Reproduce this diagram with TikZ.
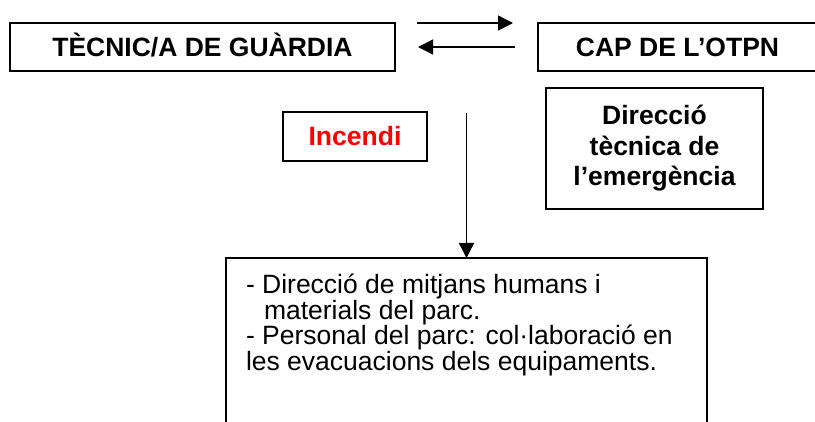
\documentclass[tikz,border=0pt]{standalone}
\usepackage{fontspec}
\setmainfont{Liberation Sans}
\usetikzlibrary{arrows.meta}
\newcommand{\headfont}{\fontsize{26.5}{30.5}\selectfont\bfseries}
\newcommand{\bodyfont}{\fontsize{26.5}{25.4}\selectfont}
\begin{document}
\begin{tikzpicture}[x=1pt,y=-1pt,
    box/.style={draw,line width=1.5pt,inner sep=0pt,outer sep=0pt},
    title/.style={box,font=\headfont,text height=19pt,text depth=0pt},
    flow/.style={line width=1.3pt,-{Triangle[length=15pt,width=15pt]}}]
  \useasboundingbox (0,0) rectangle (815,422);
  \clip (0,0) rectangle (815,422);
  % boxes
  \node[title,minimum width=385,minimum height=48] (tecnic) at (202.5,47) {TÈCNIC/A DE GUÀRDIA};
  \node[title,minimum width=279,minimum height=48] (cap) at (677.5,47) {CAP DE L’OTPN};
  \node[title,minimum width=144,minimum height=49,text=red] (incendi) at (355,136.5) {Incendi};
  \node[box,minimum width=217,minimum height=121,align=center,font=\headfont] (direccio) at (654.5,148.5)
    {Direcció\\tècnica de\\l’emergència};
  \node[box,anchor=north west] (tasques) at (226,258) {\parbox[c][200pt][t]{481pt}{\bodyfont
      \lineskiplimit=-100pt \leftskip=20pt
      \rule{0pt}{36pt}- Direcció de mitjans humans i\\
      \hspace*{18pt}materials del parc.\\
      - Personal del parc: col·laboració en\\
      les evacuacions dels equipaments.}};
  % arrows
  \coordinate (avis) at (466.5,113);
  \draw[flow] ([xshift=22]tecnic.north east) -- ([xshift=-25]cap.north west);
  \draw[flow] ([xshift=-23]cap.west) -- ([xshift=23]tecnic.east);
  \draw[flow] (avis) -- (tasques.north);
\end{tikzpicture}
\end{document}
